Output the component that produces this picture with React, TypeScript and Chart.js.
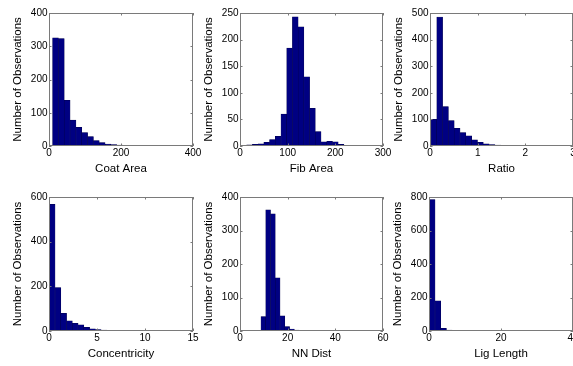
import React, { useEffect, useRef } from "react";
import { Chart, registerables } from "chart.js";

Chart.register(...registerables);

// ---------- data ----------
const coatAreaBins = [18.1, 34.3, 50.5, 66.7, 82.9, 99.1, 115.3, 131.5, 147.7, 163.9, 180.1, 196.3, 212.5, 228.7, 244.9, 261.1, 277.3, 293.5, 309.7, 325.9];
const coatAreaCounts = [325, 323, 137, 78, 56, 40, 28, 16, 10, 6, 4, 3, 2, 1, 1, 0, 0, 0, 0, 1];
const coatAreaXTicks = [0, 200, 400];
const coatAreaYTicks = [0, 100, 200, 300, 400];

const fibAreaBins = [20, 32, 44, 56, 68, 80, 92, 104, 116, 128, 140, 152, 164, 176, 188, 200, 212, 224, 236, 248];
const fibAreaCounts = [2, 3, 4, 7, 12, 18, 60, 184, 243, 224, 130, 71, 27, 8, 9, 8, 3, 0, 1, 0];
const fibAreaXTicks = [0, 100, 200, 300];
const fibAreaYTicks = [0, 50, 100, 150, 200, 250];

const ratioBins = [0.081, 0.203, 0.325, 0.447, 0.569, 0.691, 0.813, 0.935, 1.057, 1.179, 1.301, 1.423, 1.545, 1.667, 1.789, 1.911, 2.033, 2.155, 2.277, 2.399];
const ratioCounts = [100, 485, 148, 96, 66, 50, 38, 23, 14, 8, 5, 3, 2, 1, 1, 1, 0, 1, 0, 1];
const ratioXTicks = [0, 1, 2, 3];
const ratioYTicks = [0, 100, 200, 300, 400, 500];

const concBins = [0.33, 0.93, 1.53, 2.13, 2.73, 3.33, 3.93, 4.53, 5.13, 5.73, 6.33, 6.93, 7.53, 8.13, 8.73, 9.33, 9.93, 10.53, 11.13, 11.73];
const concCounts = [567, 194, 79, 45, 34, 28, 16, 10, 6, 4, 3, 2, 2, 1, 1, 1, 0, 1, 0, 1];
const concXTicks = [0, 5, 10, 15];
const concYTicks = [0, 200, 400, 600];

const nnBins = [9.8, 11.8, 13.8, 15.8, 17.8, 19.8, 21.8, 23.8, 25.8, 27.8, 29.8, 31.8, 33.8, 35.8, 37.8, 39.8, 41.8, 43.8, 45.8, 47.8];
const nnCounts = [43, 362, 350, 159, 45, 13, 6, 3, 2, 1, 1, 1, 0, 1, 0, 0, 1, 0, 1, 0];
const nnXTicks = [0, 20, 40, 60];
const nnYTicks = [0, 100, 200, 300, 400];

const ligBins = [0.89, 2.47, 4.05, 5.63, 7.21, 8.79, 10.37, 11.95, 13.53, 15.11, 16.69, 18.27, 19.85, 21.43, 23.01, 24.59, 26.17, 27.75, 29.33, 30.91];
const ligCounts = [785, 180, 16, 6, 4, 2, 1, 1, 1, 0, 1, 1, 2, 0, 0, 1, 0, 1, 1, 0];
const ligXTicks = [0, 20, 40];
const ligYTicks = [0, 200, 400, 600, 800];

const yAxisLabel = "Number of Observations";

// ---------- layout ----------
const PAD_L = 49;
const PAD_T = 12;
const PAD_R = 16;
const PAD_B = 38;
const FONT = "'Liberation Sans', Arial, Helvetica, sans-serif";

type Panel = {
  left: number;
  top: number;
  w: number;
  h: number;
  xLabel: string;
  bins: number[];
  counts: number[];
  xTicks: number[];
  yTicks: number[];
};

const panels: Panel[] = [
  { left: 49, top: 13, w: 144, h: 133, xLabel: "Coat Area", bins: coatAreaBins, counts: coatAreaCounts, xTicks: coatAreaXTicks, yTicks: coatAreaYTicks },
  { left: 240, top: 13, w: 143, h: 133, xLabel: "Fib Area", bins: fibAreaBins, counts: fibAreaCounts, xTicks: fibAreaXTicks, yTicks: fibAreaYTicks },
  { left: 430, top: 13, w: 143, h: 133, xLabel: "Ratio", bins: ratioBins, counts: ratioCounts, xTicks: ratioXTicks, yTicks: ratioYTicks },
  { left: 49, top: 197, w: 144, h: 134, xLabel: "Concentricity", bins: concBins, counts: concCounts, xTicks: concXTicks, yTicks: concYTicks },
  { left: 240, top: 197, w: 143, h: 134, xLabel: "NN Dist", bins: nnBins, counts: nnCounts, xTicks: nnXTicks, yTicks: nnYTicks },
  { left: 429, top: 197, w: 144, h: 134, xLabel: "Lig Length", bins: ligBins, counts: ligCounts, xTicks: ligXTicks, yTicks: ligYTicks },
];

const boxPlugin = {
  id: "matlabBox",
  afterDatasetsDraw(chart: any) {
    const { ctx, chartArea: a, scales } = chart;
    ctx.save();
    ctx.strokeStyle = "#7a7a7a";
    ctx.lineWidth = 1;
    ctx.strokeRect(Math.round(a.left) + 0.5, Math.round(a.top) + 0.5, Math.round(a.right - a.left) - 1, Math.round(a.bottom - a.top) - 1);
    const tl = 2.5;
    ctx.beginPath();
    scales.x.ticks.forEach((t: any) => {
      const px = Math.round(scales.x.getPixelForValue(t.value)) + 0.5;
      ctx.moveTo(px, a.bottom);
      ctx.lineTo(px, a.bottom - tl);
      ctx.moveTo(px, a.top);
      ctx.lineTo(px, a.top + tl);
    });
    scales.y.ticks.forEach((t: any) => {
      const py = Math.round(scales.y.getPixelForValue(t.value)) + 0.5;
      ctx.moveTo(a.left, py);
      ctx.lineTo(a.left + tl, py);
      ctx.moveTo(a.right, py);
      ctx.lineTo(a.right - tl, py);
    });
    ctx.stroke();
    ctx.restore();
  },
};

function Histogram({ p }: { p: Panel }) {
  const ref = useRef<HTMLCanvasElement | null>(null);
  useEffect(() => {
    if (!ref.current) return;
    const xMax = p.xTicks[p.xTicks.length - 1];
    const yMax = p.yTicks[p.yTicks.length - 1];
    const chart = new Chart(ref.current, {
      type: "bar",
      data: {
        datasets: [
          {
            data: p.bins.map((b, i) => ({ x: b, y: p.counts[i] })),
            backgroundColor: "#000082",
            borderColor: "#00004a",
            borderWidth: 0.5,
            barPercentage: 1,
            categoryPercentage: 1,
          },
        ],
      },
      options: {
        responsive: false,
        animation: false,
        devicePixelRatio: 1,
        layout: { padding: { top: PAD_T, right: PAD_R, left: 0, bottom: 0 } },
        plugins: { legend: { display: false }, tooltip: { enabled: false } },
        scales: {
          x: {
            type: "linear",
            min: 0,
            max: xMax,
            offset: false,
            afterBuildTicks: (s: any) => {
              s.ticks = p.xTicks.map((v) => ({ value: v }));
            },
            afterFit: (s: any) => {
              s.height = PAD_B;
            },
            grid: { display: false, drawTicks: false },
            border: { display: false },
            ticks: { padding: 1.5, color: "#000", autoSkip: false, maxRotation: 0, font: { family: FONT, size: 10 } },
            title: { display: true, text: p.xLabel, color: "#000", font: { family: FONT, size: 11.5 }, padding: { top: 0, bottom: 8 } },
          },
          y: {
            type: "linear",
            min: 0,
            max: yMax,
            afterBuildTicks: (s: any) => {
              s.ticks = p.yTicks.map((v) => ({ value: v }));
            },
            afterFit: (s: any) => {
              s.width = PAD_L;
            },
            grid: { display: false, drawTicks: false },
            border: { display: false },
            ticks: { padding: 1.5, color: "#000", autoSkip: false, font: { family: FONT, size: 10 } },
            title: { display: true, text: yAxisLabel, color: "#000", font: { family: FONT, size: 11.5 }, padding: { top: 10.5, bottom: 0 } },
          },
        },
      } as any,
      plugins: [boxPlugin],
    });
    return () => chart.destroy();
  }, [p]);
  const cw = PAD_L + p.w + PAD_R;
  const ch = PAD_T + p.h + PAD_B;
  return (
    <canvas
      ref={ref}
      width={cw}
      height={ch}
      style={{ position: "absolute", left: p.left - PAD_L, top: p.top - PAD_T, width: cw, height: ch }}
    />
  );
}

export default function App() {
  return (
    <div
      style={{
        position: "fixed",
        left: 0,
        top: 0,
        width: 573,
        height: 366,
        overflow: "hidden",
        background: "#fff",
      }}
    >
      {panels.map((p, i) => (
        <Histogram key={i} p={p} />
      ))}
    </div>
  );
}
